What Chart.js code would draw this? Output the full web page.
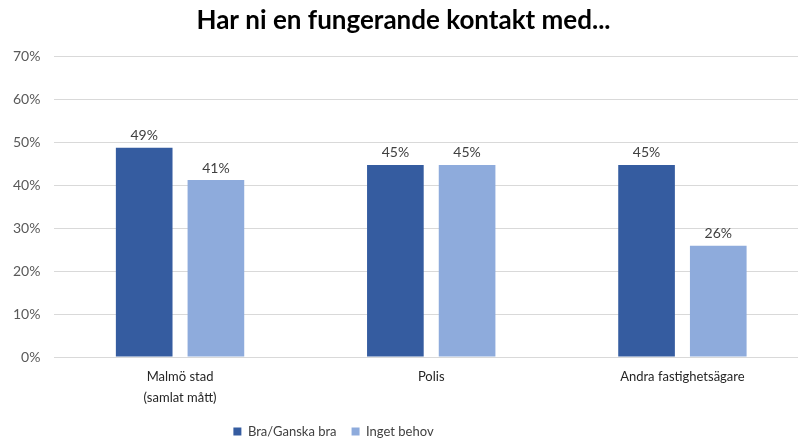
<!DOCTYPE html>
<html>
<head>
<meta charset="utf-8">
<script src="https://cdn.jsdelivr.net/npm/chart.js@4.4.0/dist/chart.umd.min.js"></script>
<style>
  html, body { margin: 0; padding: 0; background: #fff; }
  #outer { width: 798px; height: 441px; overflow: hidden; }
  #wrap { width: 808px; height: 441px; }
</style>
</head>
<body>
<div id="outer"><div id="wrap"><canvas id="myChart"></canvas></div></div>
<script>
// Data
var categories = [['Malmö stad', '(samlat mått)'], 'Polis', 'Andra fastighetsägare'];
var braValues = [48.7, 44.7, 44.7];
var behovValues = [41.2, 44.7, 25.9];
var seriesNames = ['Bra/Ganska bra', 'Inget behov'];

var fontFam = 'Lato, "Open Sans", sans-serif';

// Labels above bars
var valueLabels = {
  id: 'valueLabels',
  afterDatasetsDraw: function(chart) {
    var ctx = chart.ctx;
    ctx.save();
    ctx.font = '14px ' + fontFam;
    ctx.fillStyle = '#404040';
    ctx.textAlign = 'center';
    ctx.textBaseline = 'bottom';
    chart.data.datasets.forEach(function(ds, i) {
      chart.getDatasetMeta(i).data.forEach(function(bar, j) {
        ctx.fillText(Math.round(ds.data[j]) + '%', bar.x, bar.y - 5);
      });
    });
    ctx.restore();
  }
};

// shift legend a bit to the left, like the original
var legendShift = {
  id: 'legendShift',
  afterLayout: function(chart) {
    chart.legend.left -= 70;
    chart.legend.right -= 70;
  }
};

const ctx = document.getElementById('myChart');

new Chart(ctx, {
  type: 'bar',
  data: {
    labels: categories,
    datasets: [{
      label: seriesNames[0],
      data: braValues,
      backgroundColor: '#355ca0'
    }, {
      label: seriesNames[1],
      data: behovValues,
      backgroundColor: '#8eabdc'
    }]
  },
  options: {
    responsive: true,
    maintainAspectRatio: false,
    animation: false,
    categoryPercentage: 0.571,
    barPercentage: 0.79,
    layout: { padding: { left: -1, right: 0, top: 0, bottom: -7 } },
    plugins: {
      title: {
        display: true,
        text: 'Har ni en fungerande kontakt med...',
        color: '#000',
        font: { family: fontFam, size: 26, weight: 'bold' },
        padding: { top: 5, bottom: 20 }
      },
      legend: {
        position: 'bottom',
        labels: {
          boxWidth: 8,
          boxHeight: 8,
          padding: 15,
          color: '#404040',
          font: { family: fontFam, size: 13 }
        }
      },
      tooltip: { enabled: false }
    },
    scales: {
      y: {
        min: 0,
        max: 70,
        ticks: {
          stepSize: 10,
          padding: 14,
          color: '#595959',
          font: { family: fontFam, size: 14 },
          callback: function(v) { return v + '%'; }
        },
        grid: { color: '#d9d9d9', drawTicks: false },
        border: { display: false }
      },
      x: {
        ticks: {
          padding: 1,
          color: '#262626',
          font: { family: fontFam, size: 13, lineHeight: 1.65 }
        },
        grid: { display: false },
        border: { color: '#d9d9d9' }
      }
    }
  },
  plugins: [valueLabels, legendShift]
});
</script>
</body>
</html>
